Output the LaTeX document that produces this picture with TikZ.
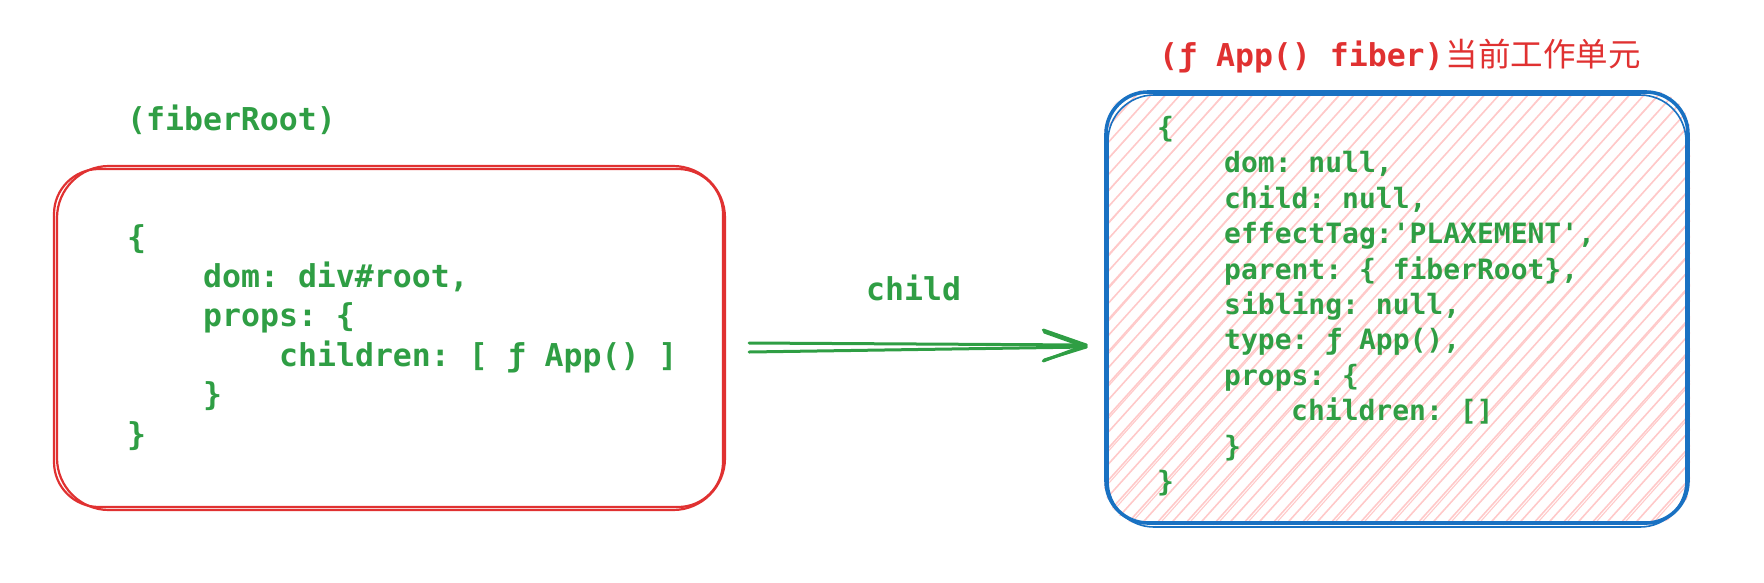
\documentclass[tikz,border=0pt]{standalone}
\usepackage{fontspec}
\setmonofont{DejaVu Sans Mono}
\newfontfamily\cjkfont{Noto Sans CJK SC}
\usetikzlibrary{calc}
\definecolor{exgreen}{HTML}{2F9E44}
\definecolor{exred}{HTML}{E03131}
\definecolor{exblue}{HTML}{1971C2}
\definecolor{expink}{HTML}{FFC9C9}
\tikzset{
  bigcode/.style={anchor=base west, inner sep=0pt, text=exgreen, font=\fontsize{31.5}{38}\selectfont\ttfamily\bfseries},
  smallcode/.style={anchor=base west, inner sep=0pt, text=exgreen, font=\fontsize{28}{34}\selectfont\ttfamily\bfseries},
  redframe/.style={draw=exred, line width=2.2pt, rounded corners=45pt},
  blueframe/.style={draw=exblue, line width=3.6pt, rounded corners=42pt},
  hach/.style={draw=expink, line width=1.6pt},
  hachthin/.style={draw=expink, line width=1.1pt},
  arrowline/.style={draw=exgreen, line width=3pt, line cap=round, line join=round},
}
\begin{document}
\begin{tikzpicture}[x=1pt,y=-1pt]
\useasboundingbox (0,0) rectangle (1764,582);
% left box
\node[rectangle, minimum width=669pt, minimum height=338pt, inner sep=0pt, redframe] (lbox) at (388.5,338) {};
\draw[redframe, rounded corners=52pt] (57,166) rectangle (725,510);
\node[bigcode] (t1) at (127,130) {(fiberRoot)};
\node[bigcode] (l1) at (127,248) {\{};
\node[bigcode] (l2) at (203,287.4) {dom: div\#root,};
\node[bigcode] (l3) at (203,326.8) {props: \{};
\node[bigcode] (l4) at (279,366.2) {children: [ ƒ App() ]};
\node[bigcode] (l5) at (203,405.6) {\}};
\node[bigcode] (l6) at (127,445) {\}};
% right box hachure
\begin{scope}
  \clip[rounded corners=42pt] (1104,90) rectangle (1690,525);
  \foreach \i in {0,...,70} {
    \draw[hach] ({720+14.5*\i},525) -- ++(392,-435);
  }
  \foreach \i in {0,2,...,70} {
    \draw[hachthin] ({723.5+14.5*\i},525) -- ++(388,-435);
  }
\end{scope}
\node[rectangle, minimum width=582pt, minimum height=431pt, inner sep=0pt, blueframe] (rbox) at (1397,307.5) {};
\draw[draw=exblue, line width=1.6pt, rounded corners=46pt] (1108,95) rectangle (1686,527);
\node[bigcode, text=exred] (t2) at (1159,66) {(ƒ App() fiber)\hspace{2pt}{\cjkfont\mdseries\fontsize{32.5}{38}\selectfont 当前工作单元}};
\node[smallcode] (r1) at (1157,137.5) {\{};
\node[smallcode] (r2) at (1224,172.9) {dom: null,};
\node[smallcode] (r3) at (1224,208.3) {child: null,};
\node[smallcode] (r4) at (1224,243.7) {effectTag:'PLAXEMENT',};
\node[smallcode] (r5) at (1224,279.1) {parent: \{ fiberRoot\},};
\node[smallcode] (r6) at (1224,314.5) {sibling: null,};
\node[smallcode] (r7) at (1224,349.9) {type: ƒ App(),};
\node[smallcode] (r8) at (1224,385.3) {props: \{};
\node[smallcode] (r9) at (1291,420.7) {children: []};
\node[smallcode] (r10) at (1224,456.1) {\}};
\node[smallcode] (r11) at (1157,491.5) {\}};
% arrow
\coordinate (as1) at ($(lbox.east)+(25,5)$);
\coordinate (as2) at ($(lbox.east)+(25,14)$);
\coordinate (ae) at ($(rbox.west)+(-18,37.5)$);
\coordinate (ae2) at ($(rbox.west)+(-18,39.5)$);
\coordinate (b1) at ($(ae)+(-43,-15)$);
\coordinate (b2) at ($(ae)+(-43,16)$);
\draw[arrowline] (as1) -- (ae);
\draw[arrowline] (as2) -- (ae2);
\draw[arrowline] (b1) -- (ae) -- (b2);
\draw[arrowline] ($(b1)+(1,2)$) -- (ae2) -- ($(b2)+(1,-1)$);
\node[bigcode] (lab) at (866,300) {child};
\end{tikzpicture}
\end{document}
